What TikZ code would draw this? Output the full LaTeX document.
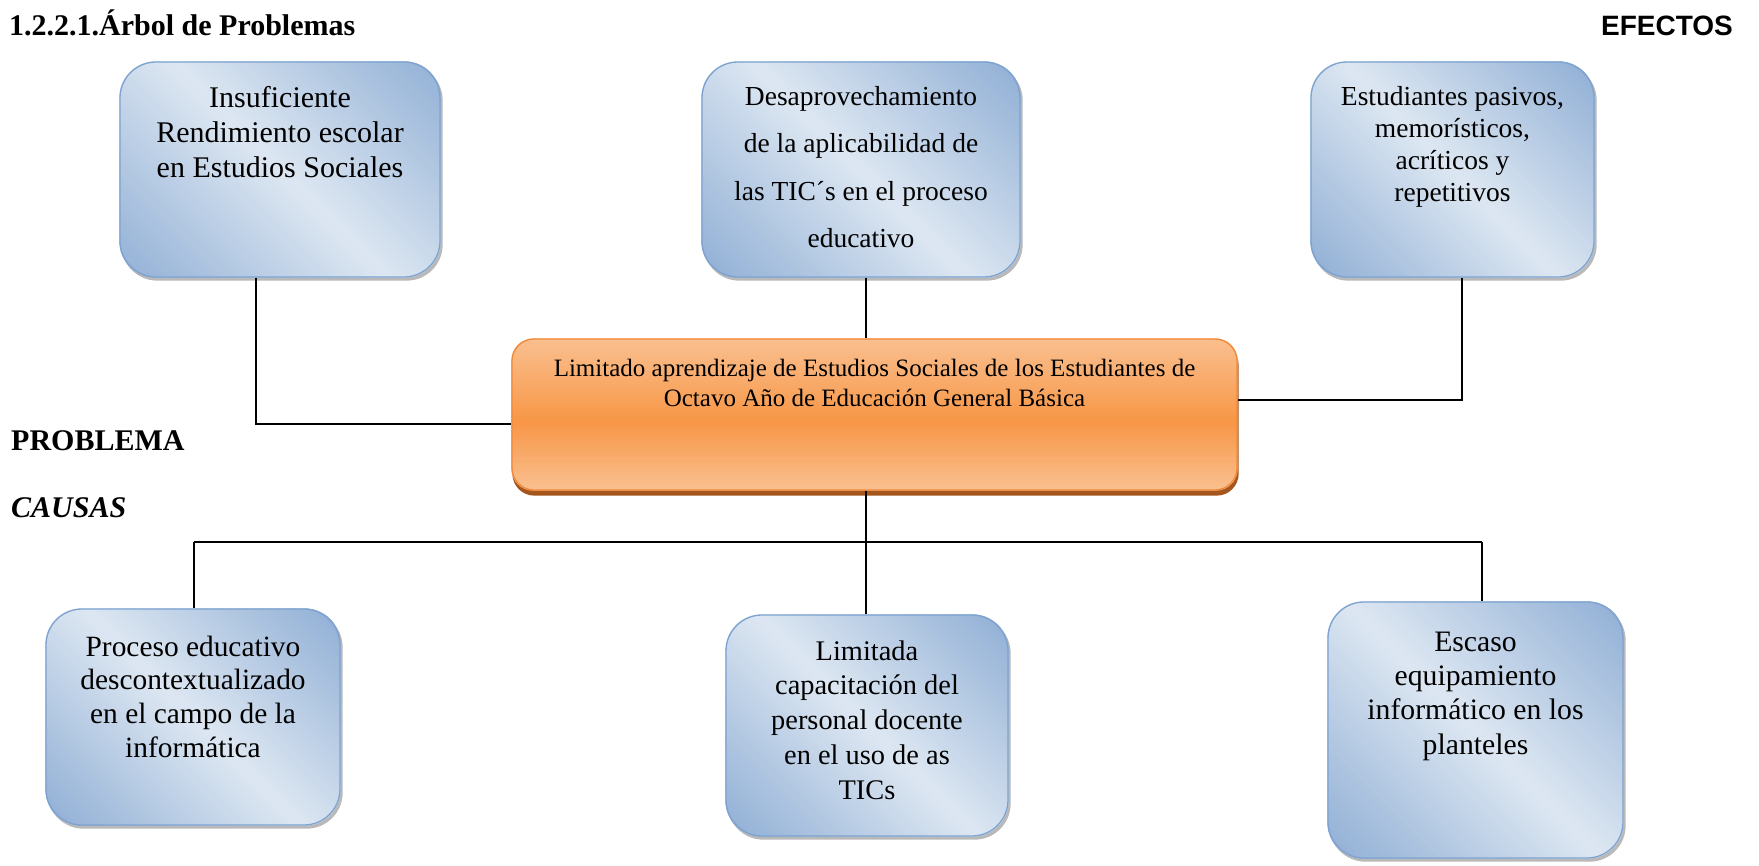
\documentclass[tikz,border=0pt]{standalone}
\usepackage{fontspec}
\setmainfont{Liberation Serif}
\newfontfamily\arialfont{Liberation Sans}
\usetikzlibrary{calc}
\pgfdeclarelayer{bg}
\pgfsetlayers{bg,main}
\definecolor{bluedark}{HTML}{93B1D6}
\definecolor{bluelight}{HTML}{DDE7F2}
\definecolor{blueedge}{HTML}{7EA3D0}
\definecolor{orangemid}{HTML}{F79646}
\definecolor{orangelight}{HTML}{FAC090}
\definecolor{orangeedge}{HTML}{F08A3A}
\definecolor{orangeshadow}{HTML}{A5561C}
\newcommand\boxtxt[6]{\parbox[b][#2][t]{#1}{\centering\fontsize{#4}{#5}\selectfont\rule{0pt}{#3}#6\par}}
% diagonal blue gradient behind node #1, half length #2
\newcommand\bluefill[2]{%
  \fill[gray!55, rounded corners=36pt] ([shift={(2,3)}]#1.north west) rectangle ([shift={(2,3)}]#1.south east);
  \begin{scope}
    \clip[rounded corners=36pt] (#1.north west) rectangle (#1.south east);
    \begin{scope}[shift={(#1.center)}, rotate=45]
      \foreach \k in {-40,...,39}{%
        \pgfmathsetmacro\p{min(100,abs(\k+0.5)/40*100)}%
        \fill[bluedark!\p!bluelight] ({\k*#2/40}, -400) rectangle ({(\k+1)*#2/40+0.6}, 400);
      }
      \fill[bluedark] ({-#2-300}, -400) rectangle ({-#2+0.3}, 400);
      \fill[bluedark] ({#2}, -400) rectangle ({#2+300}, 400);
    \end{scope}
  \end{scope}}
% vertical orange gradient behind node #1
\newcommand\orangefill[1]{%
  \fill[orangeshadow, rounded corners=22pt] ([shift={(1,5)}]#1.north west) rectangle ([shift={(1,5)}]#1.south east);
  \begin{scope}
    \clip[rounded corners=22pt] (#1.north west) rectangle (#1.south east);
    \foreach \k in {0,...,59}{%
      \pgfmathsetmacro\t{(\k+0.5)/60}%
      \pgfmathsetmacro\p{ifthenelse(\t<0.55, \t/0.55*100, (1-\t)/0.45*100)}%
      \fill[orangemid!\p!orangelight] ($(#1.north west)!{\k/60}!(#1.south west)$) rectangle ($(#1.north east)!{(\k+1.4)/60}!(#1.south east)$);
    }
  \end{scope}}
\tikzset{
  bluebox/.style={rounded corners=36pt, draw=blueedge, line width=1.3pt, inner sep=0pt},
  orangebox/.style={rounded corners=22pt, draw=orangeedge, line width=1.3pt, inner sep=0pt},
  conn/.style={line width=1.6pt, black},
  heading/.style={inner sep=0pt, font=\fontsize{30}{35}\selectfont\bfseries}
}
\begin{document}
\begin{tikzpicture}[x=1pt,y=-1pt]
\useasboundingbox (0,0) rectangle (1759,865);

\node[heading, anchor=base west] (title) at (9,35) {1.2.2.1.Árbol de Problemas};
\node[inner sep=0pt, anchor=base east, font=\arialfont\fontsize{28}{32}\selectfont\bfseries] (efectos) at (1733,35) {EFECTOS};
\node[heading, anchor=base west] (problema) at (11,450) {PROBLEMA};
\node[heading, anchor=base west] (causas) at (11,517) {\itshape CAUSAS};

\node[bluebox] (b1) at (280,169.5) {\boxtxt{320pt}{215pt}{45pt}{30}{35}{Insuficiente\\Rendimiento escolar\\en Estudios Sociales}};
\node[bluebox] (b2) at (861,169.5) {\boxtxt{318pt}{215pt}{43pt}{27.5}{47.5}{Desaprovechamiento\\de la aplicabilidad de\\las TIC´s en el proceso\\educativo}};
\node[bluebox] (b3) at (1452.5,169.5) {\boxtxt{283pt}{215pt}{43.5pt}{27.5}{32}{Estudiantes pasivos,\\memorísticos,\\acríticos y\\repetitivos}};

\node[orangebox] (p) at (874.5,414.5) {\boxtxt{725pt}{151pt}{37.5pt}{25}{29.5}{Limitado aprendizaje de Estudios Sociales de los Estudiantes de\\Octavo Año de Educación General Básica}};

\node[bluebox] (b4) at (193,717) {\boxtxt{294pt}{216pt}{47pt}{29.4}{33.7}{Proceso educativo\\descontextualizado\\en el campo de la\\informática}};
\node[bluebox] (b5) at (867,725.5) {\boxtxt{282pt}{221pt}{45pt}{28.4}{34.8}{Limitada\\capacitación del\\personal docente\\en el uso de as\\TICs}};
\node[bluebox] (b6) at (1475.5,730) {\boxtxt{295pt}{256pt}{49pt}{29.7}{34.4}{Escaso\\equipamiento\\informático en los\\planteles}};

\begin{pgfonlayer}{bg}
  \bluefill{b1}{185}
  \bluefill{b2}{178}
  \bluefill{b3}{166}
  \bluefill{b4}{170}
  \bluefill{b5}{168}
  \bluefill{b6}{185}
  \orangefill{p}
\end{pgfonlayer}

\coordinate (j1) at (256,424);
\coordinate (j2) at (866,300);
\coordinate (j3) at (1462,400);
\coordinate (k) at (866,542);
\coordinate (kl) at (194,542);
\coordinate (kr) at (1482,542);

\draw[conn] (j1 |- b1.south) -- (j1) -- (j1 -| p.west);
\draw[conn] (j2 |- b2.south) -- (j2 |- p.north);
\draw[conn] (j3 |- b3.south) -- (j3) -- (j3 -| p.east);
\draw[conn] (k |- p.south) -- (k);
\draw[conn] (kl) -- (kr);
\draw[conn] (kl) -- (kl |- b4.north);
\draw[conn] (k) -- (k |- b5.north);
\draw[conn] (kr) -- (kr |- b6.north);
\end{tikzpicture}
\end{document}
